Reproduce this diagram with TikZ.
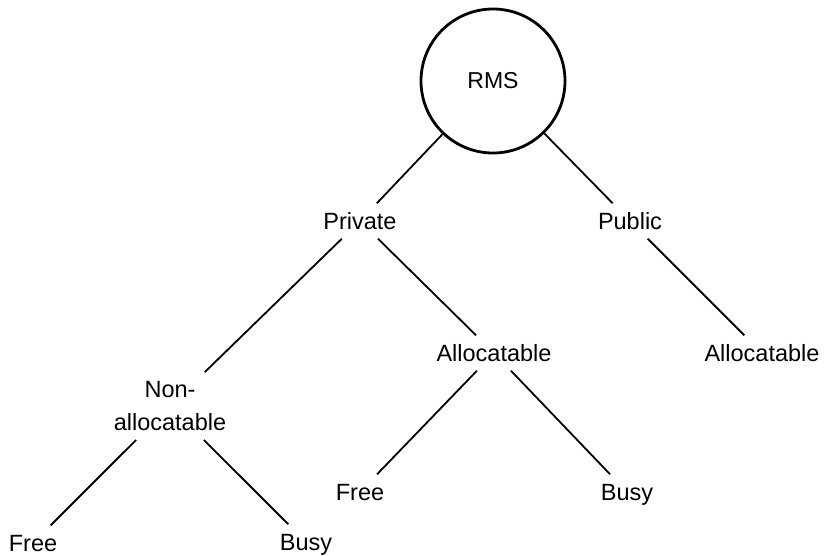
\documentclass[tikz,border=0pt]{standalone}
\usepackage{fontspec}
\setmainfont{Liberation Sans}
\begin{document}
\begin{tikzpicture}[x=1pt,y=-1pt,
  lbl/.style={font=\fontsize{23.5}{33}\selectfont, text height=17pt, text depth=0pt, inner xsep=3pt, inner ysep=9pt},
  lbl2/.style={font=\fontsize{23.5}{33}\selectfont, align=center, inner xsep=3pt, inner ysep=9pt},
  root/.style={circle, draw, line width=2.8pt, minimum size=144pt, inner sep=0pt, font=\fontsize{23}{27}\selectfont},
  edge/.style={line width=1.8pt}]
\useasboundingbox (0,0) rectangle (830,555);
\node[root] (rms) at (493,81) {RMS};
\node[lbl] (priv) at (360,221) {Private};
\node[lbl] (pub) at (630,221) {Public};
\node[lbl2] (nonal) at (170,406) {Non-\\allocatable};
\node[lbl] (alm) at (494,353) {Allocatable};
\node[lbl] (alr) at (762,353) {Allocatable};
\node[lbl] (freel) at (33,543) {Free};
\node[lbl] (busyl) at (306,542) {Busy};
\node[lbl] (freem) at (360,492) {Free};
\node[lbl] (busym) at (627,492) {Busy};
\draw[edge] (rms) -- (priv);
\draw[edge] (rms) -- (pub);
\draw[edge] (priv) -- (nonal);
\draw[edge] (priv) -- (alm);
\draw[edge] (pub) -- (alr);
\draw[edge] (nonal) -- (freel);
\draw[edge] (nonal) -- (busyl);
\draw[edge] (alm) -- (freem);
\draw[edge] (alm) -- (busym);
\end{tikzpicture}
\end{document}
